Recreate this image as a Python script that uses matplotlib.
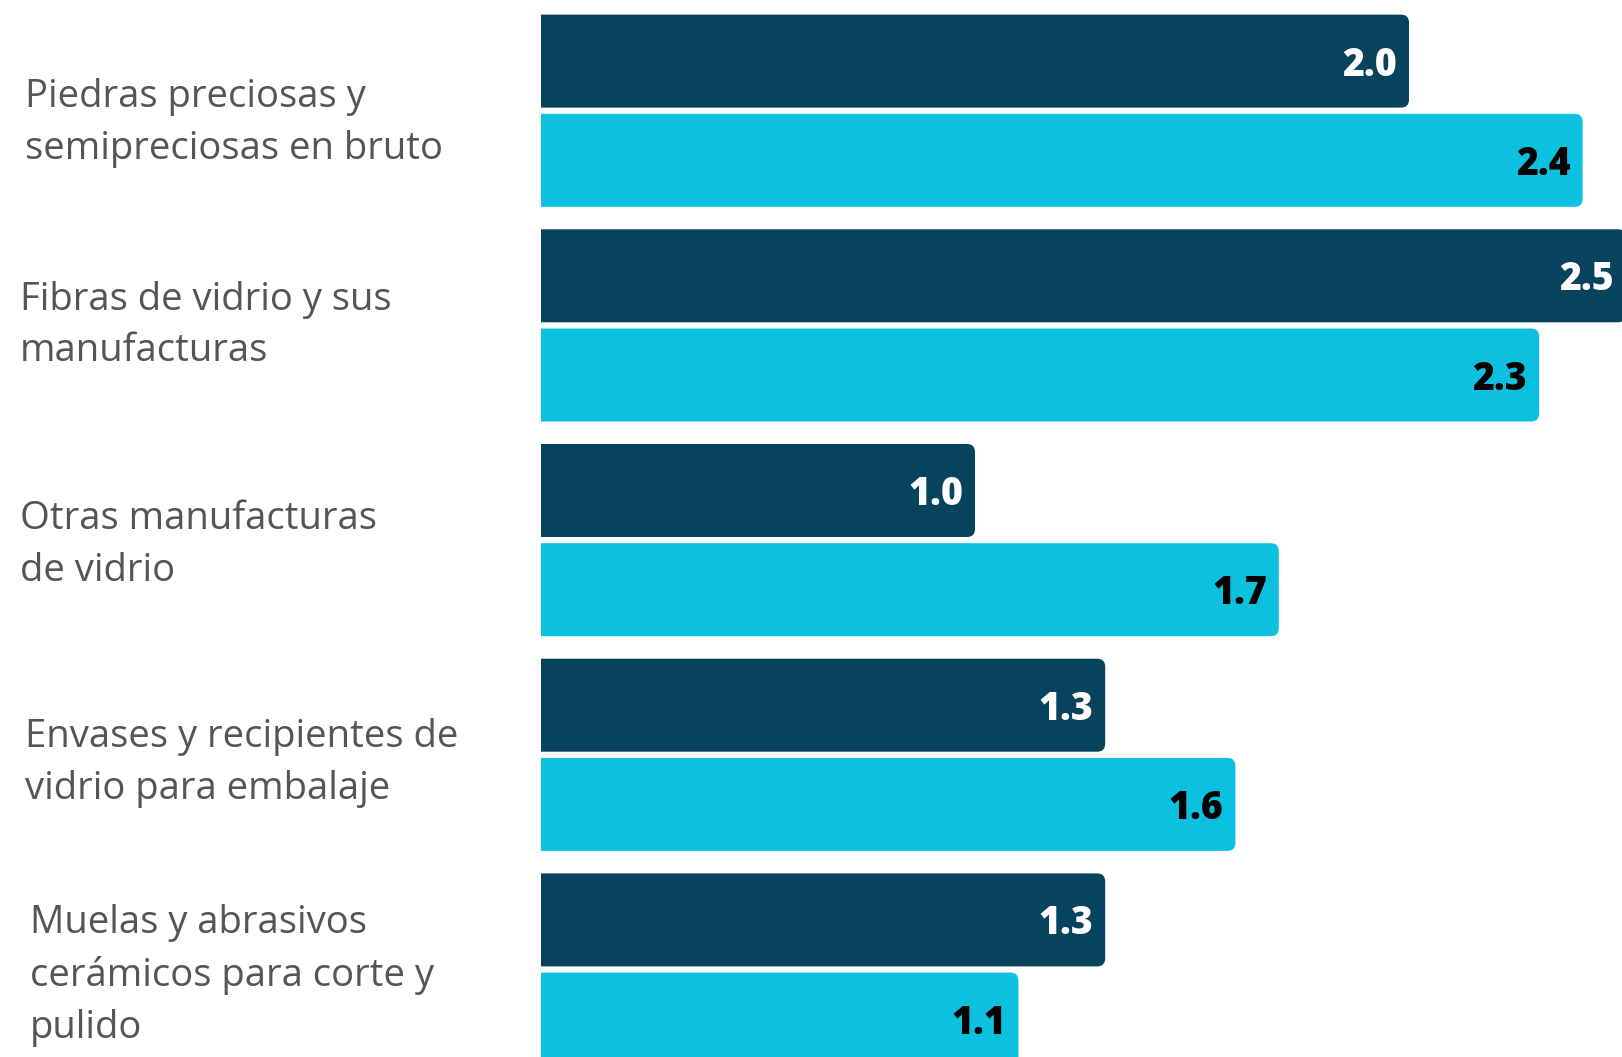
import matplotlib
matplotlib.use("Agg")
import matplotlib.pyplot as plt
from matplotlib.path import Path
from matplotlib.patches import PathPatch

# ---- data ----
categories = [
    "Piedras preciosas y\nsemipreciosas en bruto",
    "Fibras de vidrio y sus\nmanufacturas",
    "Otras manufacturas\nde vidrio",
    "Envases y recipientes de\nvidrio para embalaje",
    "Muelas y abrasivos\ncerámicos para corte y\npulido",
]
series_dark = [2.0, 2.5, 1.0, 1.3, 1.3]
series_light = [2.4, 2.3, 1.7, 1.6, 1.1]
value_labels_dark = ["2.0", "2.5", "1.0", "1.3", "1.3"]
value_labels_light = ["2.4", "2.3", "1.7", "1.6", "1.1"]

# ---- layout ----
W, H, DPI = 1622, 1057, 100
x0_px, px_per_unit = 541.0, 434.0
y0_px, pitch_px = 110.7, 214.7
bar_h_px, offset_px = 93.0, 49.6
radius_px = 8.0
label_x_px = [25, 20, 20, 25, 30]
label_dy_px = [12, 0, 5, 8, 6]

DARK = "#07435C"
LIGHT = "#0CC1E0"
TEXT = "#555555"

fig = plt.figure(figsize=(W / DPI, H / DPI), dpi=DPI)
ax = fig.add_axes([0, 0, 1, 1])
ax.set_xlim(-x0_px / px_per_unit, (W - x0_px) / px_per_unit)
ax.set_ylim((H - y0_px) / pitch_px, -y0_px / pitch_px)
ax.axis("off")

bh = bar_h_px / pitch_px
off = offset_px / pitch_px
rx = radius_px / px_per_unit
ry = radius_px / pitch_px


def bar(v, yc, color):
    """Bar from 0 to v (data units) with rounded right corners."""
    y0, y1 = yc - bh / 2, yc + bh / 2
    verts = [(0, y0), (v - rx, y0), (v, y0), (v, y0 + ry),
             (v, y1 - ry), (v, y1), (v - rx, y1), (0, y1), (0, y0)]
    codes = [Path.MOVETO, Path.LINETO, Path.CURVE3, Path.CURVE3,
             Path.LINETO, Path.CURVE3, Path.CURVE3, Path.LINETO,
             Path.CLOSEPOLY]
    ax.add_patch(PathPatch(Path(verts, codes), facecolor=color,
                           edgecolor="none", linewidth=0))


idx = list(range(len(categories)))
yd = [i - off for i in idx]
yl = [i + off for i in idx]
for v, y in zip(series_dark, yd):
    bar(v, y, DARK)
for v, y in zip(series_light, yl):
    bar(v, y, LIGHT)

pad = 12 / px_per_unit
base = 14.5 / pitch_px
num_font = dict(family=["Open Sans", "DejaVu Sans"],
                fontsize=27, fontweight="heavy")
for v, y, s in zip(series_dark, yd, value_labels_dark):
    ax.text(v - pad, y + base, s, ha="right", va="baseline",
            color="white", **num_font)
for v, y, s in zip(series_light, yl, value_labels_light):
    ax.text(v - pad, y + base, s, ha="right", va="baseline",
            color="black", **num_font)

xlim = ax.get_xlim()
for i, (cat, lx, dy) in enumerate(zip(categories, label_x_px, label_dy_px)):
    x = xlim[0] + lx / px_per_unit
    ax.text(x, i + dy / pitch_px, cat, ha="left", va="center",
            color=TEXT, fontsize=27.5, linespacing=1.47,
            family=["Open Sans", "DejaVu Sans"])

fig.savefig("out.png", dpi=DPI, facecolor="white")
